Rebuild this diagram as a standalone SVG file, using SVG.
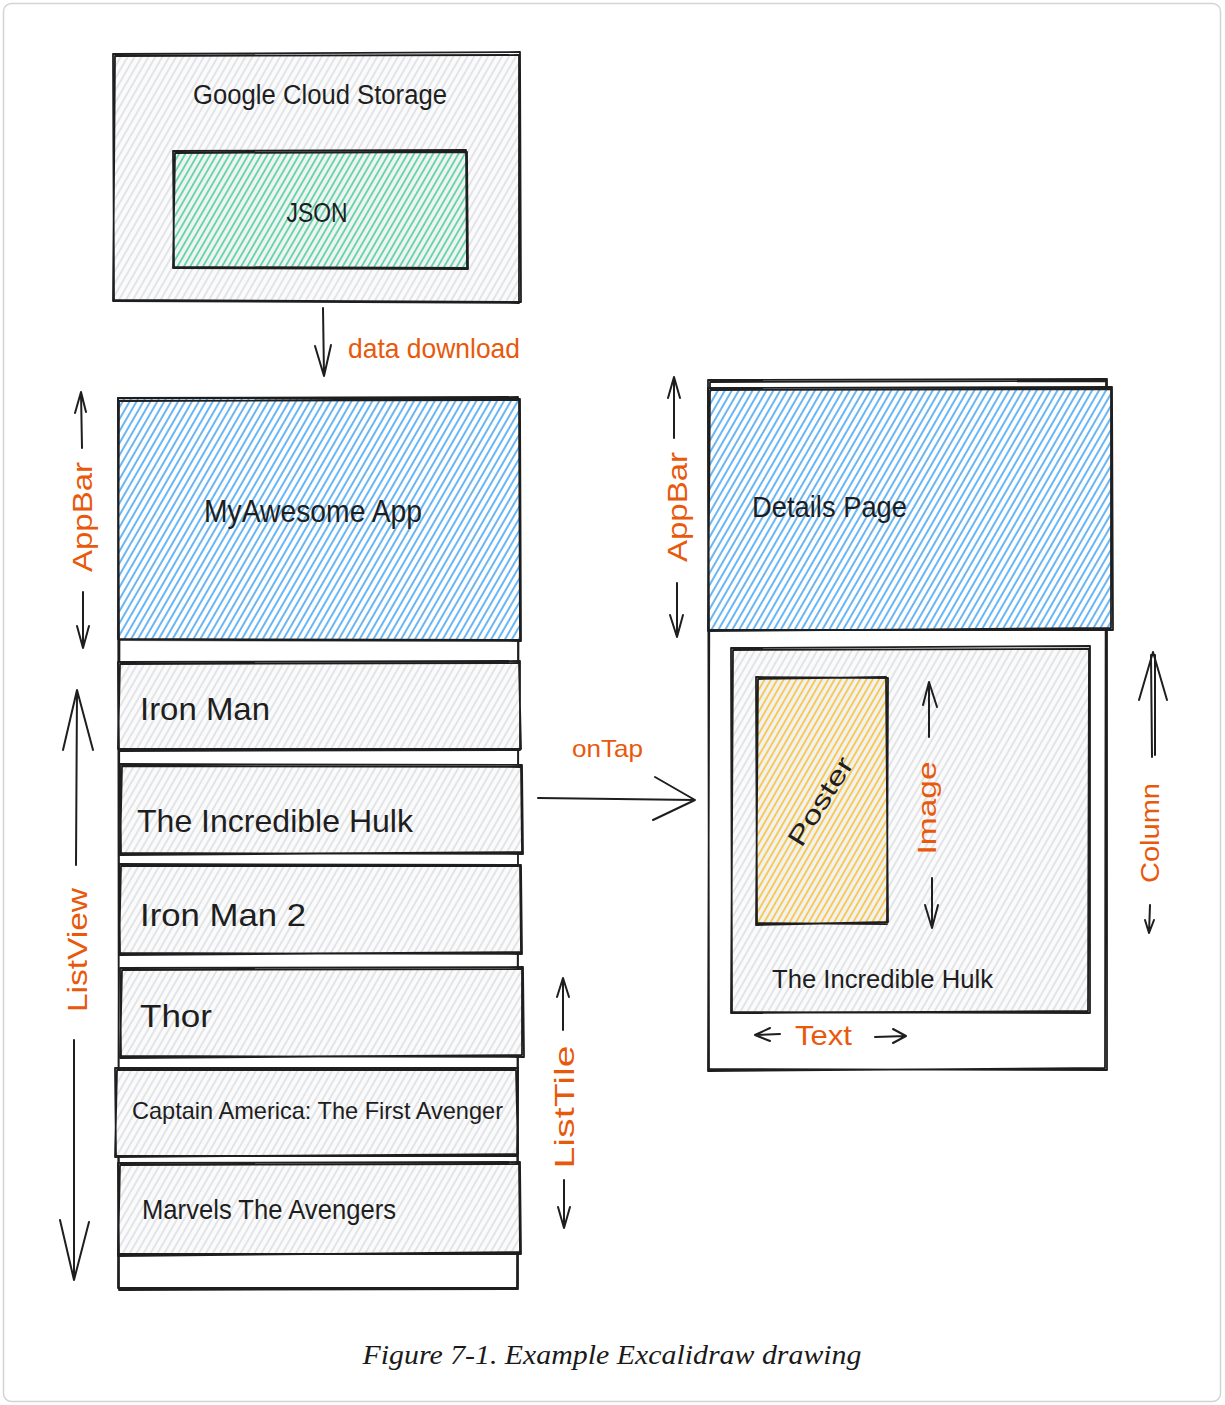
<svg xmlns="http://www.w3.org/2000/svg" width="1225" height="1405" viewBox="0 0 1225 1405">
<style>
.frame{fill:#ffffff;stroke:#d4d4d4;stroke-width:1.5}
.box{fill:none;stroke:#1e1e1e;stroke-width:1.8;stroke-linejoin:round}
.t{font-family:"Liberation Sans",Arial,sans-serif;fill:#1e1e1e}
.o{font-family:"Liberation Sans",Arial,sans-serif;fill:#e8590c}
.ar{fill:none;stroke:#1e1e1e;stroke-width:2;stroke-linecap:round;stroke-linejoin:round}
.cap{font-family:"Liberation Serif","Times New Roman",serif;font-style:italic;font-size:28px;fill:#1a1a1a}
</style>
<defs>
<pattern id="hg" width="6" height="6" patternUnits="userSpaceOnUse" patternTransform="rotate(30)">
<rect width="6" height="6" fill="#fbfbfc"/>
<line x1="1" y1="0" x2="1" y2="6" stroke="#d5d9de" stroke-width="1.3"/>
</pattern>
<pattern id="hb" width="6" height="6" patternUnits="userSpaceOnUse" patternTransform="rotate(30)">
<rect width="6" height="6" fill="#ffffff"/>
<line x1="1" y1="0" x2="1" y2="6" stroke="#5aaef2" stroke-width="1.8"/>
</pattern>
<pattern id="hgr" width="5.5" height="5.5" patternUnits="userSpaceOnUse" patternTransform="rotate(30)">
<rect width="5.5" height="5.5" fill="#f2f4f4"/>
<line x1="1" y1="0" x2="1" y2="5.5" stroke="#5fd3a8" stroke-width="1.8"/>
</pattern>
<pattern id="hy" width="5.5" height="5.5" patternUnits="userSpaceOnUse" patternTransform="rotate(30)">
<rect width="5.5" height="5.5" fill="#f1f2f2"/>
<line x1="1" y1="0" x2="1" y2="5.5" stroke="#f8c64a" stroke-width="1.8"/>
</pattern>
</defs>

<rect class="frame" x="3.5" y="3.5" width="1217" height="1398" rx="8"/>

<g id="gcs">
<rect x="114" y="54" width="406" height="247" fill="url(#hg)"/>
<path class="box" d="M113,54 L520,52 L521,302 L114,300 Z M115,56 L519,55 L519,303 L113,301 Z"/>
<text class="t" x="320" y="104" font-size="27" text-anchor="middle" textLength="254" lengthAdjust="spacingAndGlyphs">Google Cloud Storage</text>
</g>

<g id="json">
<rect x="174" y="152" width="293" height="116" fill="url(#hgr)"/>
<path class="box" d="M173,151 L466,150 L467,268 L174,267 Z M175,153 L467,152 L468,269 L173,268 Z"/>
<text class="t" x="317" y="222" font-size="27" text-anchor="middle" textLength="61" lengthAdjust="spacingAndGlyphs">JSON</text>
</g>

<g id="list">
<path class="box" d="M118,398 L518,397 L518,1289 L119,1290 Z M120,400 L519,399 L517,1288 L118,1288 Z"/>
</g>

<g id="appbar">
<rect x="119" y="399" width="401" height="241" fill="url(#hb)"/>
<path class="box" d="M118,398 L520,399 L521,641 L119,640 Z M119,401 L519,400 L520,640 L118,639 Z"/>
<text class="t" x="313" y="522" font-size="32" text-anchor="middle" textLength="218" lengthAdjust="spacingAndGlyphs">MyAwesome App</text>
</g>

<g id="tile-ironman">
<rect x="119" y="663" width="400" height="87" fill="url(#hg)"/>
<path class="box" d="M118,662 L520,661 L520,750 L119,751 Z M120,664 L519,663 L521,749 L118,749 Z"/>
<text class="t" x="140" y="720" font-size="32" textLength="130" lengthAdjust="spacingAndGlyphs">Iron Man</text>
</g>

<g id="tile-hulk">
<rect x="121" y="765" width="400" height="89" fill="url(#hg)"/>
<path class="box" d="M120,764 L522,765 L523,854 L121,853 Z M122,766 L521,767 L522,852 L120,855 Z"/>
<text class="t" x="137" y="832" font-size="32" textLength="276" lengthAdjust="spacingAndGlyphs">The Incredible Hulk</text>
</g>

<g id="tile-ironman2">
<rect x="120" y="865" width="401" height="89" fill="url(#hg)"/>
<path class="box" d="M119,864 L521,865 L522,954 L120,953 Z M121,866 L520,866 L521,952 L119,955 Z"/>
<text class="t" x="140" y="926" font-size="32" textLength="166" lengthAdjust="spacingAndGlyphs">Iron Man 2</text>
</g>

<g id="tile-thor">
<rect x="121" y="969" width="401" height="88" fill="url(#hg)"/>
<path class="box" d="M120,968 L523,967 L524,1057 L121,1056 Z M122,970 L522,969 L522,1055 L120,1058 Z"/>
<text class="t" x="140" y="1027" font-size="32" textLength="72" lengthAdjust="spacingAndGlyphs">Thor</text>
</g>

<g id="tile-captain">
<rect x="116" y="1069" width="401" height="87" fill="url(#hg)"/>
<path class="box" d="M115,1068 L518,1068 L517,1156 L116,1156 Z M117,1070 L516,1070 L518,1154 L115,1157 Z"/>
<text class="t" x="132" y="1119" font-size="24" textLength="371" lengthAdjust="spacingAndGlyphs">Captain America: The First Avenger</text>
</g>

<g id="tile-avengers">
<rect x="119" y="1164" width="401" height="90" fill="url(#hg)"/>
<path class="box" d="M118,1163 L520,1162 L521,1254 L119,1254 Z M120,1165 L519,1164 L520,1252 L118,1256 Z"/>
<text class="t" x="142" y="1219" font-size="28" textLength="254" lengthAdjust="spacingAndGlyphs">Marvels The Avengers</text>
</g>

<g id="details">
<path class="box" d="M708,380 L1107,379 L1107,1070 L709,1069 Z M710,382 L1106,381 L1105,1068 L708,1071 Z"/>
</g>

<g id="details-appbar">
<rect x="709" y="389" width="403" height="241" fill="url(#hb)"/>
<path class="box" d="M708,388 L1112,387 L1113,630 L709,630 Z M710,390 L1111,389 L1111,628 L708,631 Z"/>
<text class="t" x="752" y="517" font-size="29" textLength="155" lengthAdjust="spacingAndGlyphs">Details Page</text>
</g>

<g id="details-body">
<rect x="732" y="649" width="358" height="364" fill="url(#hg)"/>
<path class="box" d="M731,648 L1090,646 L1090,1013 L732,1012 Z M733,650 L1089,649 L1088,1011 L731,1013 Z"/>
<text class="t" x="772" y="988" font-size="26" textLength="221" lengthAdjust="spacingAndGlyphs">The Incredible Hulk</text>
</g>

<g id="poster">
<rect x="757" y="678" width="131" height="246" fill="url(#hy)"/>
<path class="box" d="M756,677 L888,678 L887,924 L757,923 Z M758,679 L886,677 L888,922 L756,925 Z"/>
<text class="t" font-size="26" text-anchor="middle" transform="translate(828,806) rotate(-58)" textLength="100" lengthAdjust="spacingAndGlyphs">Poster</text>
</g>

<g id="connectors">
<path class="ar" d="M323,308 L324,376 M315,346 L324,376 L331,345"/>
<path class="ar" d="M538,798 L695,800 M655,777 L695,800 L653,820"/>
<path class="ar" d="M82,448 L81,392 M75,413 L81,392 L86,412"/>
<path class="ar" d="M83,592 L83,648 M77,626 L83,648 L89,626"/>
<path class="ar" d="M76,865 L77,690 M63,750 L77,690 L93,750"/>
<path class="ar" d="M74,1040 L74,1280 M60,1220 L74,1280 L89,1222"/>
<path class="ar" d="M563,1030 L563,978 M557,997 L563,978 L569,997"/>
<path class="ar" d="M564,1180 L564,1228 M558,1207 L564,1228 L570,1207"/>
<path class="ar" d="M674,438 L674,377 M668,398 L674,377 L680,398"/>
<path class="ar" d="M677,583 L677,637 M670,615 L677,637 L683,615"/>
<path class="ar" d="M929,737 L929,682 M923,705 L929,682 L937,707"/>
<path class="ar" d="M932,878 L932,928 M925,905 L932,928 L938,905"/>
<path class="ar" d="M780,1034 L755,1035 M770,1028 L755,1035 L770,1041"/>
<path class="ar" d="M875,1037 L906,1036 M893,1029 L906,1036 L893,1043"/>
<path class="ar" d="M1151,655 L1152,757 M1155,655 L1155,755 M1139,700 L1153,652 L1167,700"/>
<path class="ar" d="M1150,905 L1149,933 M1145,920 L1149,933 L1154,920"/>
</g>

<g id="labels">
<text class="o" x="348" y="358" font-size="28" textLength="172" lengthAdjust="spacingAndGlyphs">data download</text>
<text class="o" x="572" y="757" font-size="24" textLength="71" lengthAdjust="spacingAndGlyphs">onTap</text>
<text class="o" x="795" y="1045" font-size="28" textLength="57" lengthAdjust="spacingAndGlyphs">Text</text>
<text class="o" font-size="28" text-anchor="middle" transform="translate(92,517) rotate(-90)" textLength="110" lengthAdjust="spacingAndGlyphs">AppBar</text>
<text class="o" font-size="28" text-anchor="middle" transform="translate(87,950) rotate(-90)" textLength="124" lengthAdjust="spacingAndGlyphs">ListView</text>
<text class="o" font-size="28" text-anchor="middle" transform="translate(574,1107) rotate(-90)" textLength="123" lengthAdjust="spacingAndGlyphs">ListTile</text>
<text class="o" font-size="28" text-anchor="middle" transform="translate(687,507) rotate(-90)" textLength="110" lengthAdjust="spacingAndGlyphs">AppBar</text>
<text class="o" font-size="26" text-anchor="middle" transform="translate(936,808) rotate(-90)" textLength="93" lengthAdjust="spacingAndGlyphs">Image</text>
<text class="o" font-size="26" text-anchor="middle" transform="translate(1159,833) rotate(-90)" textLength="100" lengthAdjust="spacingAndGlyphs">Column</text>
</g>

<text class="cap" x="612" y="1364" text-anchor="middle" textLength="499" lengthAdjust="spacingAndGlyphs">Figure 7-1. Example Excalidraw drawing</text>
</svg>
